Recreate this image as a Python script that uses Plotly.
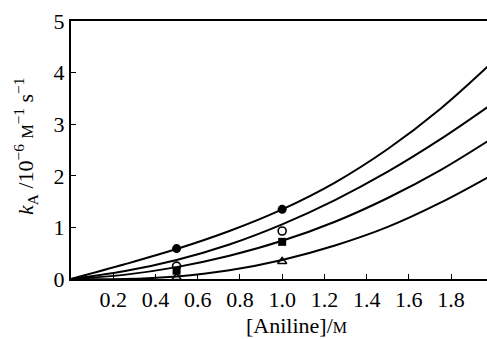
import plotly.graph_objects as go

# Fitted rate-constant curves, sampled along [Aniline]
curve_x = [0.0, 0.25, 0.5, 0.75, 1.0, 1.25, 1.5, 1.75, 2.0]
curve_1 = [0.0, 0.28, 0.58, 0.93, 1.35, 1.87, 2.52, 3.30, 4.22]
curve_2 = [0.0, 0.15, 0.37, 0.67, 1.06, 1.53, 2.08, 2.71, 3.41]
curve_3 = [0.0, 0.08, 0.23, 0.45, 0.74, 1.11, 1.57, 2.11, 2.74]
curve_4 = [0.0, 0.0, 0.05, 0.17, 0.37, 0.65, 1.01, 1.48, 2.03]

# Measured points
point_x = [0.5, 1.0]
filled_circle = [0.59, 1.35]
open_circle = [0.25, 0.93]
filled_square = [0.16, 0.72]
open_triangle = [0.03, 0.34]

x_ticks = [0.2, 0.4, 0.6, 0.8, 1.0, 1.2, 1.4, 1.6, 1.8]
y_ticks = [0, 1, 2, 3, 4, 5]

FONT = "Liberation Serif, Times New Roman, Times, serif"

fig = go.Figure()

for ys in (curve_1, curve_2, curve_3, curve_4):
    fig.add_trace(go.Scatter(x=curve_x, y=ys, mode="lines",
                             line=dict(color="black", width=2, shape="spline"),
                             showlegend=False, hoverinfo="skip"))

fig.add_trace(go.Scatter(x=point_x, y=filled_circle, mode="markers",
                         marker=dict(symbol="circle", size=9, color="black"),
                         showlegend=False))
fig.add_trace(go.Scatter(x=point_x, y=open_circle, mode="markers",
                         marker=dict(symbol="circle-open", size=8, color="black",
                                     line=dict(width=1.6)),
                         showlegend=False))
fig.add_trace(go.Scatter(x=point_x, y=filled_square, mode="markers",
                         marker=dict(symbol="square", size=8, color="black"),
                         showlegend=False))
fig.add_trace(go.Scatter(x=point_x, y=open_triangle, mode="markers",
                         marker=dict(symbol="triangle-up-open", size=8, color="black",
                                     line=dict(width=1.4)),
                         showlegend=False))

fig.update_layout(
    width=487, height=339,
    margin=dict(l=71, r=0, t=21, b=60),
    paper_bgcolor="white", plot_bgcolor="white",
    font=dict(family=FONT, size=22, color="black"),
    xaxis=dict(range=[0, 1.97], showgrid=False, zeroline=False,
               showline=True, linecolor="black", linewidth=2, mirror=True,
               ticks="inside", ticklen=5, tickwidth=1, tickcolor="black",
               tickvals=x_ticks, ticktext=[f"{v:.1f}" for v in x_ticks],
               tickfont=dict(family=FONT, size=22)),
    yaxis=dict(range=[0, 5], showgrid=False, zeroline=False,
               showline=True, linecolor="black", linewidth=2,
               ticks="inside", ticklen=5, tickwidth=1, tickcolor="black",
               tickvals=y_ticks, ticktext=[str(v) for v in y_ticks],
               tickfont=dict(family=FONT, size=22)),
    annotations=[
        dict(text="[Aniline]/<span style='font-size:16px'>M</span>",
             xref="paper", yref="paper", x=(296 - 71) / 416, y=-(325 - 279) / 258,
             showarrow=False, xanchor="center", yanchor="middle",
             font=dict(family=FONT, size=22)),
        dict(text="<i>k</i><sub>A</sub> /10<sup>−6</sup> <span style='font-size:16px'>M</span><sup>−1</sup> s<sup>−1</sup>",
             xref="paper", yref="paper", x=-(71 - 25) / 416, y=(279 - 147) / 258,
             showarrow=False, xanchor="center", yanchor="middle", textangle=-90,
             font=dict(family=FONT, size=22)),
    ],
)

fig.write_html("out.html")
